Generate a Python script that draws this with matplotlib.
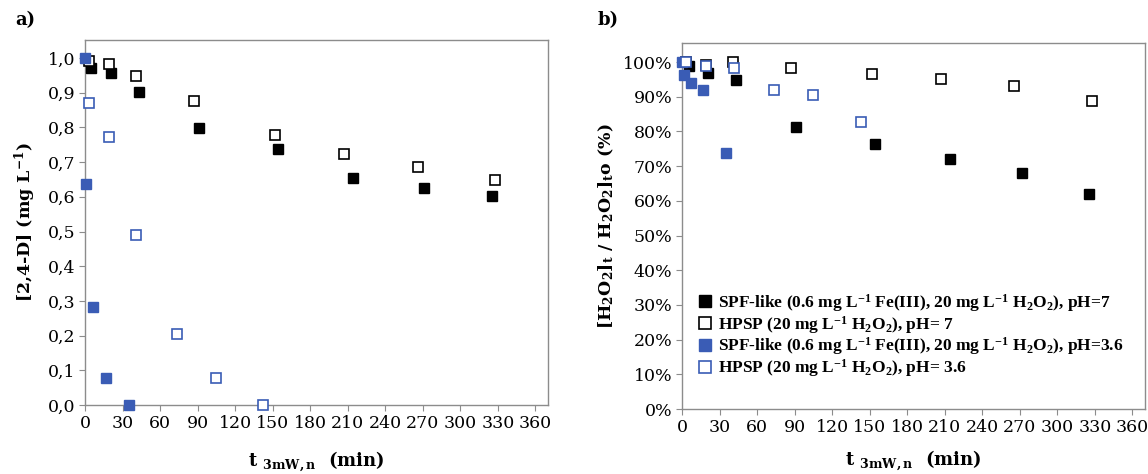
import matplotlib
matplotlib.use("Agg")
import matplotlib.pyplot as plt
from matplotlib.ticker import FuncFormatter

plt.rcParams['font.family'] = ['DejaVu Serif']
plt.rcParams['mathtext.default'] = 'regular'

BLUE = '#3a5cb5'
GRAY = '#8c8c8c'

# panel a) 2,4-D concentration (mg/L)
t_spf7_a = [5, 21, 43, 91, 154, 214, 271, 325]
c_spf7 = [0.971, 0.957, 0.902, 0.799, 0.738, 0.655, 0.626, 0.601]
t_hpsp7_a = [3, 19.5, 40.5, 87, 152, 207, 266, 327.5]
c_hpsp7 = [0.991, 0.983, 0.949, 0.876, 0.777, 0.724, 0.685, 0.649]
t_spf36_a = [0, 1, 6.7, 16.5, 35]
c_spf36 = [1.0, 0.638, 0.283, 0.079, 0.0]
t_hpsp36_a = [3.5, 19, 41, 73.6, 105, 142.4]
c_hpsp36 = [0.871, 0.773, 0.490, 0.205, 0.079, 0.0]

# panel b) H2O2 remaining (%)
t_spf7_b = [5.8, 20.8, 43, 91, 154.6, 214.4, 271.5, 325]
h_spf7 = [98.8, 96.9, 94.8, 81.3, 76.5, 72.0, 67.9, 62.0]
t_hpsp7_b = [3.5, 19.4, 40.5, 87, 152, 207, 265.6, 327.5]
h_hpsp7 = [100.0, 99.2, 99.9, 98.3, 96.5, 95.0, 93.0, 88.8]
t_spf36_b = [0, 1.3, 6.9, 17, 35.5]
h_spf36 = [100.0, 96.3, 94.0, 91.9, 73.8]
t_hpsp36_b = [2.9, 19.4, 41.3, 73.9, 104.8, 143.2]
h_hpsp36 = [100.0, 98.9, 98.2, 91.9, 90.5, 82.7]

labels = [
    r'SPF-like (0.6 mg L$^{-1}$ Fe(III), 20 mg L$^{-1}$ H$_2$O$_2$), pH=7',
    r'HPSP (20 mg L$^{-1}$ H$_2$O$_2$), pH= 7',
    r'SPF-like (0.6 mg L$^{-1}$ Fe(III), 20 mg L$^{-1}$ H$_2$O$_2$), pH=3.6',
    r'HPSP (20 mg L$^{-1}$ H$_2$O$_2$), pH= 3.6',
]

styles = [
    dict(marker='s', ms=7.5, mfc='black', mec='black', mew=1.0),
    dict(marker='s', ms=7.0, mfc='white', mec='black', mew=1.2),
    dict(marker='s', ms=7.5, mfc=BLUE, mec=BLUE, mew=1.0),
    dict(marker='s', ms=7.0, mfc='white', mec=BLUE, mew=1.2),
]

fig = plt.figure(figsize=(11.48, 4.74), dpi=100)
W, H = 1148, 474
ax1 = fig.add_axes([85 / W, 1 - 405 / H, (548 - 85) / W, (405 - 40) / H])
ax2 = fig.add_axes([682 / W, 1 - 409 / H, (1145 - 682) / W, (409 - 43) / H])


def style_axes(ax, pad):
    for sp in ax.spines.values():
        sp.set_color(GRAY)
        sp.set_linewidth(1.0)
    ax.tick_params(axis='both', direction='out', color=GRAY, length=4,
                   labelsize=12.5, pad=3)
    ax.set_xlim(0, 370)
    ax.set_xticks(range(0, 361, 30))
    ax.set_xlabel(r't $_{3mW,n}$  (min)', fontsize=13, fontweight='bold', labelpad=pad)


# panel a
data_a = [(t_spf7_a, c_spf7), (t_hpsp7_a, c_hpsp7), (t_spf36_a, c_spf36), (t_hpsp36_a, c_hpsp36)]
for (tx, cy), st in zip(data_a, styles):
    ax1.plot(tx, cy, linestyle='none', clip_on=False, zorder=3, **st)
style_axes(ax1, 13)
ax1.set_ylim(0, 1.052)
ax1.set_yticks([i / 10 for i in range(11)])
ax1.yaxis.set_major_formatter(FuncFormatter(lambda v, p: f'{v:.1f}'.replace('.', ',')))
ax1.set_ylabel(r'[2,4-D] (mg L$^{-1}$)', fontsize=12.5, fontweight='bold', labelpad=7)

# panel b
data_b = [(t_spf7_b, h_spf7), (t_hpsp7_b, h_hpsp7), (t_spf36_b, h_spf36), (t_hpsp36_b, h_hpsp36)]
handles = []
for (tx, hy), st, lab in zip(data_b, styles, labels):
    ln, = ax2.plot(tx, hy, linestyle='none', clip_on=False, zorder=3, label=lab, **st)
    handles.append(ln)
style_axes(ax2, 9)
ax2.set_ylim(0, 105.5)
ax2.set_yticks(range(0, 101, 10))
ax2.yaxis.set_major_formatter(FuncFormatter(lambda v, p: f'{v:.0f}%'))
ax2.set_ylabel(r'[H$_2$O$_2$]$_t$ / H$_2$O$_2$]$_t$o (%)', fontsize=12.5, fontweight='bold', labelpad=5)
ax2.legend(handles=handles, loc='lower left', bbox_to_anchor=(0.015, 0.062),
           frameon=False,
           prop={'family': 'Liberation Serif', 'size': 12.5, 'weight': 'bold'},
           handletextpad=0.3, labelspacing=0.0, borderaxespad=0, handlelength=1.0,
           markerscale=1.2)

fig.text(15 / W, 1 - 20 / H, 'a)', fontsize=13, fontweight='bold', va='center')
fig.text(598 / W, 1 - 20 / H, 'b)', fontsize=13, fontweight='bold', va='center')

fig.savefig('out.png', dpi=100)
